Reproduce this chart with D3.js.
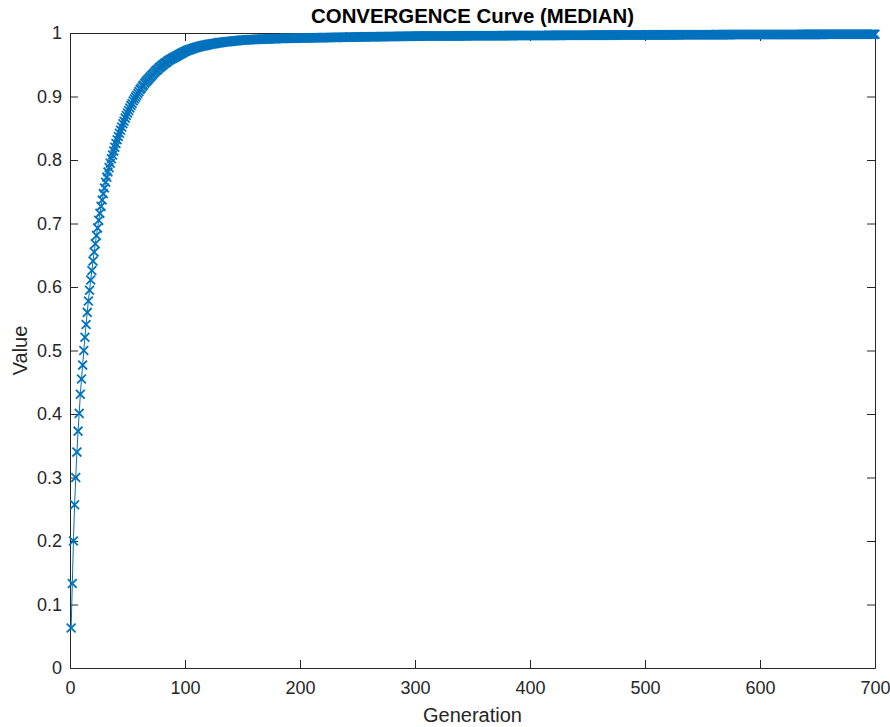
<!DOCTYPE html>
<html>
<head>
<meta charset="utf-8">
<script src="https://cdn.jsdelivr.net/npm/d3@7"></script>
<style>
  html, body { margin: 0; padding: 0; background: #ffffff; }
  svg { display: block; }
  .axis text { font-family: "Liberation Sans", Arial, Helvetica, sans-serif; font-size: 18px; fill: #262626; }
  .axis path, .axis line { stroke: #262626; stroke-width: 1; }
</style>
</head>
<body>
<svg id="chart" width="890" height="727"></svg>
<script>
// Median best value per generation (generation 1 .. 700)
const medianValue = [
  .063,.133,.200,.257,.300,.340,.373,.401,.431,.455,
  .477,.500,.521,.541,.560,.578,.595,.611,.626,.641,
  .655,.668,.681,.693,.705,.716,.727,.737,.747,.756,
  .765,.773,.781,.788,.795,.802,.808,.814,.820,.826,
  .832,.837,.842,.847,.852,.857,.861,.866,.870,.874,
  .878,.882,.886,.889,.893,.896,.899,.902,.905,.908,
  .911,.913,.916,.918,.921,.923,.925,.927,.929,.931,
  .933,.935,.937,.939,.941,.942,.944,.946,.947,.949,
  .950,.952,.953,.954,.956,.957,.958,.959,.960,.961,
  .962,.963,.964,.965,.966,.967,.968,.969,.970,.971,
  .9717,.9724,.9731,.9738,.9745,.9751,.9757,.9763,.9769,.9775,
  .9780,.9785,.9789,.9793,.9797,.9801,.9805,.9809,.9813,.9817,
  .9821,.9824,.9827,.9830,.9833,.9836,.9839,.9842,.9845,.9848,
  .9851,.9853,.9855,.9857,.9859,.9861,.9863,.9865,.9867,.9869,
  .9871,.9873,.9875,.9877,.9879,.9881,.9883,.9885,.9887,.9889,
  .9890,.9891,.9892,.9893,.9894,.9895,.9896,.9897,.9897,.9898,
  .9899,.9900,.9901,.9901,.9902,.9903,.9903,.9904,.9905,.9905,
  .9906,.9907,.9907,.9908,.9909,.9909,.9910,.9911,.9911,.9912,
  .9912,.9913,.9913,.9914,.9914,.9915,.9915,.9916,.9916,.9917,
  .9917,.9918,.9918,.9918,.9919,.9919,.9919,.9920,.9920,.9920,
  .9921,.9921,.9921,.9922,.9922,.9922,.9923,.9923,.9923,.9924,
  .9924,.9924,.9925,.9925,.9925,.9926,.9926,.9926,.9927,.9927,
  .9927,.9928,.9928,.9928,.9929,.9929,.9929,.9930,.9930,.9930,
  .9931,.9931,.9931,.9932,.9932,.9932,.9933,.9933,.9933,.9934,
  .9934,.9934,.9935,.9935,.9935,.9936,.9936,.9936,.9937,.9937,
  .9937,.9938,.9938,.9938,.9939,.9939,.9939,.9940,.9940,.9940,
  .9940,.9941,.9941,.9941,.9941,.9942,.9942,.9942,.9942,.9943,
  .9943,.9943,.9943,.9944,.9944,.9944,.9944,.9945,.9945,.9945,
  .9945,.9946,.9946,.9946,.9946,.9947,.9947,.9947,.9947,.9948,
  .9948,.9948,.9948,.9949,.9949,.9949,.9949,.9950,.9950,.9950,
  .9951,.9951,.9951,.9951,.9951,.9952,.9952,.9952,.9952,.9952,
  .9952,.9952,.9952,.9952,.9952,.9953,.9953,.9953,.9953,.9953,
  .9953,.9953,.9953,.9953,.9953,.9954,.9954,.9954,.9954,.9954,
  .9954,.9954,.9954,.9954,.9954,.9955,.9955,.9955,.9955,.9955,
  .9955,.9955,.9955,.9955,.9955,.9956,.9956,.9956,.9956,.9956,
  .9956,.9956,.9956,.9956,.9956,.9957,.9957,.9957,.9957,.9957,
  .9957,.9957,.9957,.9957,.9957,.9958,.9958,.9958,.9958,.9958,
  .9958,.9958,.9958,.9958,.9958,.9959,.9959,.9959,.9959,.9959,
  .9959,.9959,.9959,.9959,.9959,.9960,.9960,.9960,.9960,.9960,
  .9960,.9960,.9960,.9960,.9960,.9961,.9961,.9961,.9961,.9961,
  .9961,.9961,.9961,.9962,.9962,.9962,.9962,.9962,.9962,.9962,
  .9962,.9962,.9962,.9962,.9962,.9963,.9963,.9963,.9963,.9963,
  .9963,.9963,.9963,.9963,.9963,.9963,.9963,.9963,.9964,.9964,
  .9964,.9964,.9964,.9964,.9964,.9964,.9964,.9964,.9964,.9964,
  .9965,.9965,.9965,.9965,.9965,.9965,.9965,.9965,.9965,.9965,
  .9965,.9965,.9966,.9966,.9966,.9966,.9966,.9966,.9966,.9966,
  .9966,.9966,.9966,.9966,.9967,.9967,.9967,.9967,.9967,.9967,
  .9967,.9967,.9967,.9967,.9967,.9967,.9968,.9968,.9968,.9968,
  .9968,.9968,.9968,.9968,.9968,.9968,.9968,.9968,.9969,.9969,
  .9969,.9969,.9969,.9969,.9969,.9969,.9969,.9969,.9969,.9969,
  .9970,.9970,.9970,.9970,.9970,.9970,.9970,.9970,.9970,.9970,
  .9970,.9970,.9970,.9970,.9970,.9971,.9971,.9971,.9971,.9971,
  .9971,.9971,.9971,.9971,.9971,.9971,.9971,.9971,.9971,.9971,
  .9972,.9972,.9972,.9972,.9972,.9972,.9972,.9972,.9972,.9972,
  .9972,.9972,.9972,.9972,.9972,.9973,.9973,.9973,.9973,.9973,
  .9973,.9973,.9973,.9973,.9973,.9973,.9973,.9973,.9973,.9973,
  .9974,.9974,.9974,.9974,.9974,.9974,.9974,.9974,.9974,.9974,
  .9974,.9974,.9974,.9974,.9974,.9975,.9975,.9975,.9975,.9975,
  .9975,.9975,.9975,.9975,.9975,.9975,.9975,.9975,.9975,.9975,
  .9976,.9976,.9976,.9976,.9976,.9976,.9976,.9976,.9976,.9976,
  .9976,.9976,.9976,.9976,.9976,.9976,.9976,.9976,.9976,.9976,
  .9976,.9976,.9976,.9976,.9976,.9977,.9977,.9977,.9977,.9977,
  .9977,.9977,.9977,.9977,.9977,.9977,.9977,.9977,.9977,.9977,
  .9977,.9977,.9977,.9977,.9977,.9978,.9978,.9978,.9978,.9978,
  .9978,.9978,.9978,.9978,.9978,.9978,.9978,.9978,.9978,.9978,
  .9978,.9978,.9978,.9978,.9978,.9979,.9979,.9979,.9979,.9979,
  .9979,.9979,.9979,.9979,.9979,.9979,.9979,.9979,.9979,.9979,
  .9979,.9979,.9979,.9979,.9979,.9980,.9980,.9980,.9980,.9980,
  .9980,.9980,.9980,.9980,.9980,.9980,.9980,.9980,.9980,.9980,
  .9980,.9980,.9980,.9980,.9980,.9980,.9980,.9980,.9980,.9980
];

const xTickValues = [0, 100, 200, 300, 400, 500, 600, 700];
const yTickValues = [0, 0.1, 0.2, 0.3, 0.4, 0.5, 0.6, 0.7, 0.8, 0.9, 1];
const yTickLabels = ["0", "0.1", "0.2", "0.3", "0.4", "0.5", "0.6", "0.7", "0.8", "0.9", "1"];

const titleText = "CONVERGENCE Curve (MEDIAN)";
const xLabelText = "Generation";
const yLabelText = "Value";

const lineColor = "#0072BD";
const inkColor = "#262626";
const fontFamily = '"Liberation Sans", Arial, Helvetica, sans-serif';

// plot box
const box = { left: 70, right: 875, top: 33, bottom: 668 };
const tickLen = 8;

const svg = d3.select("#chart");

const x = d3.scaleLinear().domain([0, 700]).range([box.left, box.right]);
const y = d3.scaleLinear().domain([0, 1]).range([box.bottom, box.top]);

const points = medianValue.map((v, i) => ({ gen: i + 1, value: v }));

// axes (box style with inward ticks on all four sides)
svg.append("g")
  .attr("class", "axis")
  .attr("transform", `translate(0,${box.bottom})`)
  .call(d3.axisBottom(x).tickValues(xTickValues).tickFormat(d3.format("d"))
    .tickSizeInner(-tickLen).tickSizeOuter(0).tickPadding(13));

svg.append("g")
  .attr("class", "axis")
  .attr("transform", `translate(0,${box.top})`)
  .call(d3.axisTop(x).tickValues(xTickValues).tickFormat("")
    .tickSizeInner(-tickLen).tickSizeOuter(0));

svg.append("g")
  .attr("class", "axis")
  .attr("transform", `translate(${box.left},0)`)
  .call(d3.axisLeft(y).tickValues(yTickValues).tickFormat((d, i) => yTickLabels[i])
    .tickSizeInner(-tickLen).tickSizeOuter(0).tickPadding(8));

svg.append("g")
  .attr("class", "axis")
  .attr("transform", `translate(${box.right},0)`)
  .call(d3.axisRight(y).tickValues(yTickValues).tickFormat("")
    .tickSizeInner(-tickLen).tickSizeOuter(0));

// data line
const line = d3.line().x(d => x(d.gen)).y(d => y(d.value));
svg.append("path")
  .datum(points)
  .attr("fill", "none")
  .attr("stroke", lineColor)
  .attr("stroke-width", 1)
  .attr("d", line);

// 'x' markers
const m = 4.4;
svg.append("g")
  .selectAll("path")
  .data(points)
  .join("path")
  .attr("transform", d => `translate(${x(d.gen)},${y(d.value)})`)
  .attr("d", `M${-m},${-m}L${m},${m}M${-m},${m}L${m},${-m}`)
  .attr("fill", "none")
  .attr("stroke", lineColor)
  .attr("stroke-width", 1.8);

// title and axis labels
svg.append("text")
  .attr("x", (box.left + box.right) / 2)
  .attr("y", 23)
  .attr("text-anchor", "middle")
  .attr("font-family", fontFamily)
  .attr("font-size", 20.4)
  .attr("font-weight", "bold")
  .attr("fill", "#000")
  .text(titleText);

svg.append("text")
  .attr("x", (box.left + box.right) / 2)
  .attr("y", 722)
  .attr("text-anchor", "middle")
  .attr("font-family", fontFamily)
  .attr("font-size", 20)
  .attr("fill", inkColor)
  .text(xLabelText);

svg.append("text")
  .attr("transform", `translate(27,${(box.top + box.bottom) / 2}) rotate(-90)`)
  .attr("text-anchor", "middle")
  .attr("font-family", fontFamily)
  .attr("font-size", 20)
  .attr("fill", inkColor)
  .text(yLabelText);
</script>
</body>
</html>
